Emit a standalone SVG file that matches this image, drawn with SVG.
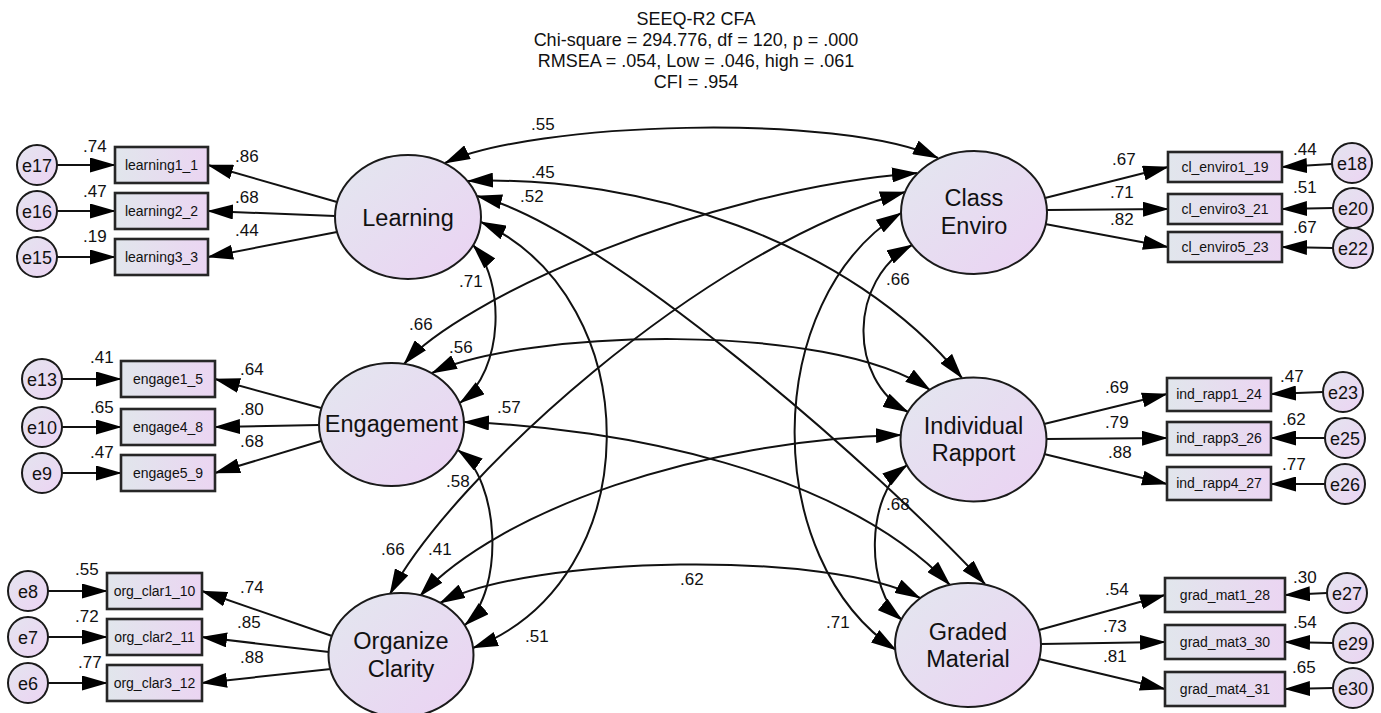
<svg xmlns="http://www.w3.org/2000/svg" width="1381" height="713" viewBox="0 0 1381 713">
<defs>
<linearGradient id="gLat" x1="0" y1="0" x2="1" y2="1">
<stop offset="0" stop-color="#e3e7ef"/><stop offset="1" stop-color="#ebd2f3"/>
</linearGradient>
<linearGradient id="gBox" x1="0" y1="0" x2="1" y2="0">
<stop offset="0" stop-color="#e1e6ec"/><stop offset="1" stop-color="#ebd5f2"/>
</linearGradient>
<linearGradient id="gErr" x1="0" y1="0" x2="1" y2="1">
<stop offset="0" stop-color="#e4e4ef"/><stop offset="1" stop-color="#ecd4f3"/>
</linearGradient>
<marker id="ah" viewBox="0 0 26 15" refX="25" refY="7.5" markerWidth="26" markerHeight="15" markerUnits="userSpaceOnUse" orient="auto-start-reverse">
<path d="M0,0 L26,7.5 L0,15 z" fill="#000"/>
</marker>
<style>
text{font-family:"Liberation Sans",Arial,sans-serif;fill:#111}
.title{font-size:18px;text-anchor:middle}
.lat{fill:url(#gLat);stroke:#1a1a1a;stroke-width:2}
.latt{font-size:23.5px;text-anchor:middle}
.box{fill:url(#gBox);stroke:#262626;stroke-width:2.6}
.boxt{font-size:14px;text-anchor:middle}
.err{fill:url(#gErr);stroke:#1a1a1a;stroke-width:2}
.errt{font-size:18px;text-anchor:middle}
.num{font-size:17px}
.c{fill:none;stroke:#111;stroke-width:2;marker-end:url(#ah)}
.cv{fill:none;stroke:#111;stroke-width:2;marker-start:url(#ah);marker-end:url(#ah)}
</style>
</defs>
<rect width="1381" height="713" fill="#fff"/>

<g id="title">
<text class="title" x="696" y="25">SEEQ-R2 CFA</text>
<text class="title" x="696" y="46">Chi-square = 294.776, df = 120, p = .000</text>
<text class="title" x="696" y="67">RMSEA = .054, Low = .046, high = .061</text>
<text class="title" x="696" y="88">CFI = .954</text>
</g>

<g id="connectors">
<!-- error to indicator -->
<path class="c" d="M57,165 L115,165"/>
<path class="c" d="M57,211 L115,211"/>
<path class="c" d="M57,257 L115,257"/>
<path class="c" d="M62,379 L121,379"/>
<path class="c" d="M62,427 L121,427"/>
<path class="c" d="M62,473 L121,473"/>
<path class="c" d="M48,591 L107,591"/>
<path class="c" d="M48,637 L107,637"/>
<path class="c" d="M48,683 L107,683"/>
<path class="c" d="M1332,164 L1282,167"/>
<path class="c" d="M1333,208 L1282,209"/>
<path class="c" d="M1333,248 L1282,247"/>
<path class="c" d="M1323,392 L1271,394"/>
<path class="c" d="M1325,438 L1271,438"/>
<path class="c" d="M1325,484 L1271,484"/>
<path class="c" d="M1327,593 L1285,595"/>
<path class="c" d="M1333,643 L1285,642"/>
<path class="c" d="M1333,688 L1285,689"/>
<!-- loadings -->
<path class="c" d="M337,202 L208,165"/>
<path class="c" d="M335,216 L208,211"/>
<path class="c" d="M337,232 L208,257"/>
<path class="c" d="M321,408 L215,379"/>
<path class="c" d="M319,425 L215,427"/>
<path class="c" d="M321,441 L215,473"/>
<path class="c" d="M332,636 L202,591"/>
<path class="c" d="M329,652 L202,637"/>
<path class="c" d="M331,669 L202,683"/>
<path class="c" d="M1045,198 L1168,167"/>
<path class="c" d="M1047,210 L1168,209"/>
<path class="c" d="M1045,224 L1168,247"/>
<path class="c" d="M1044,424 L1167,394"/>
<path class="c" d="M1046,439 L1167,438"/>
<path class="c" d="M1044,454 L1167,484"/>
<path class="c" d="M1039,630 L1165,595"/>
<path class="c" d="M1041,644 L1165,642"/>
<path class="c" d="M1039,659 L1165,689"/>
<!-- covariances -->
<path class="cv" d="M445,163 C530,122 840,112 938,158"/>
<path class="cv" d="M468,181 C640,175 850,240 962,378"/>
<path class="cv" d="M477,196 C600,225 880,470 985,584"/>
<path class="cv" d="M473,245 C505,280 505,370 460,403"/>
<path class="cv" d="M481,222 C650,300 650,580 473,648"/>
<path class="cv" d="M404,364 C460,300 700,190 917,173"/>
<path class="cv" d="M432,373 C520,330 830,320 930,390"/>
<path class="cv" d="M464,422 C620,428 840,470 950,585"/>
<path class="cv" d="M458,450 C500,480 505,590 465,625"/>
<path class="cv" d="M390,594 C450,480 700,250 905,192"/>
<path class="cv" d="M420,596 C500,510 700,440 901,435"/>
<path class="cv" d="M440,603 C530,555 830,550 920,598"/>
<path class="cv" d="M912,245 C848,280 848,380 908,412"/>
<path class="cv" d="M901,213 C760,300 760,560 896,650"/>
<path class="cv" d="M907,465 C865,495 865,590 902,620"/>
</g>

<g id="labels">
<text class="num" x="83" y="152">.74</text>
<text class="num" x="83" y="197">.47</text>
<text class="num" x="83" y="242">.19</text>
<text class="num" x="235" y="162">.86</text>
<text class="num" x="235" y="203">.68</text>
<text class="num" x="235" y="236">.44</text>
<text class="num" x="90" y="363">.41</text>
<text class="num" x="90" y="413">.65</text>
<text class="num" x="90" y="458">.47</text>
<text class="num" x="240" y="375">.64</text>
<text class="num" x="240" y="415">.80</text>
<text class="num" x="240" y="447">.68</text>
<text class="num" x="75" y="575">.55</text>
<text class="num" x="75" y="622">.72</text>
<text class="num" x="78" y="668">.77</text>
<text class="num" x="240" y="593">.74</text>
<text class="num" x="237" y="628">.85</text>
<text class="num" x="240" y="663">.88</text>
<text class="num" x="1112" y="165">.67</text>
<text class="num" x="1110" y="198">.71</text>
<text class="num" x="1110" y="225">.82</text>
<text class="num" x="1293" y="155">.44</text>
<text class="num" x="1293" y="193">.51</text>
<text class="num" x="1293" y="233">.67</text>
<text class="num" x="1105" y="393">.69</text>
<text class="num" x="1105" y="428">.79</text>
<text class="num" x="1108" y="458">.88</text>
<text class="num" x="1280" y="382">.47</text>
<text class="num" x="1282" y="425">.62</text>
<text class="num" x="1282" y="470">.77</text>
<text class="num" x="1105" y="595">.54</text>
<text class="num" x="1103" y="632">.73</text>
<text class="num" x="1103" y="662">.81</text>
<text class="num" x="1293" y="583">.30</text>
<text class="num" x="1293" y="628">.54</text>
<text class="num" x="1292" y="673">.65</text>
<text class="num" x="531" y="130">.55</text>
<text class="num" x="531" y="178">.45</text>
<text class="num" x="520" y="202">.52</text>
<text class="num" x="459" y="287">.71</text>
<text class="num" x="409" y="330">.66</text>
<text class="num" x="449" y="353">.56</text>
<text class="num" x="497" y="413">.57</text>
<text class="num" x="446" y="487">.58</text>
<text class="num" x="381" y="555">.66</text>
<text class="num" x="428" y="555">.41</text>
<text class="num" x="680" y="585">.62</text>
<text class="num" x="525" y="642">.51</text>
<text class="num" x="886" y="285">.66</text>
<text class="num" x="886" y="510">.68</text>
<text class="num" x="826" y="628">.71</text>
</g>

<g id="Learning"><ellipse class="lat" cx="408" cy="217" rx="73" ry="62"/><text class="latt" x="408" y="226">Learning</text></g>
<g id="Engagement"><ellipse class="lat" cx="391.5" cy="424.5" rx="72.5" ry="61.5"/><text class="latt" x="391.5" y="432">Engagement</text></g>
<g id="OrganizeClarity"><ellipse class="lat" cx="401" cy="655" rx="72.5" ry="62"/><text class="latt" x="401" y="649">Organize</text><text class="latt" x="401" y="677">Clarity</text></g>
<g id="ClassEnviro"><ellipse class="lat" cx="974" cy="212.5" rx="73" ry="61.5"/><text class="latt" x="974" y="206">Class</text><text class="latt" x="974" y="234">Enviro</text></g>
<g id="IndividualRapport"><ellipse class="lat" cx="973.5" cy="439.5" rx="73" ry="62"/><text class="latt" x="973.5" y="434">Individual</text><text class="latt" x="973.5" y="461">Rapport</text></g>
<g id="GradedMaterial"><ellipse class="lat" cx="968" cy="645" rx="73" ry="62"/><text class="latt" x="968" y="640">Graded</text><text class="latt" x="968" y="667">Material</text></g>

<g id="learning1_1"><rect class="box" x="115" y="147" width="93" height="36"/><text class="boxt" x="161.5" y="170">learning1_1</text></g>
<g id="learning2_2"><rect class="box" x="115" y="193" width="93" height="36"/><text class="boxt" x="161.5" y="216">learning2_2</text></g>
<g id="learning3_3"><rect class="box" x="115" y="239" width="93" height="36"/><text class="boxt" x="161.5" y="262">learning3_3</text></g>
<g id="engage1_5"><rect class="box" x="121" y="361" width="94" height="36"/><text class="boxt" x="168" y="384">engage1_5</text></g>
<g id="engage4_8"><rect class="box" x="121" y="409" width="94" height="36"/><text class="boxt" x="168" y="432">engage4_8</text></g>
<g id="engage5_9"><rect class="box" x="121" y="455" width="94" height="36"/><text class="boxt" x="168" y="478">engage5_9</text></g>
<g id="org_clar1_10"><rect class="box" x="107" y="573" width="95" height="36"/><text class="boxt" x="154.5" y="596">org_clar1_10</text></g>
<g id="org_clar2_11"><rect class="box" x="107" y="619" width="95" height="36"/><text class="boxt" x="154.5" y="642">org_clar2_11</text></g>
<g id="org_clar3_12"><rect class="box" x="107" y="665" width="95" height="36"/><text class="boxt" x="154.5" y="688">org_clar3_12</text></g>
<g id="cl_enviro1_19"><rect class="box" x="1168" y="152" width="114" height="30"/><text class="boxt" x="1225" y="172">cl_enviro1_19</text></g>
<g id="cl_enviro3_21"><rect class="box" x="1168" y="194" width="114" height="30"/><text class="boxt" x="1225" y="214">cl_enviro3_21</text></g>
<g id="cl_enviro5_23"><rect class="box" x="1168" y="232" width="114" height="30"/><text class="boxt" x="1225" y="252">cl_enviro5_23</text></g>
<g id="ind_rapp1_24"><rect class="box" x="1167" y="378" width="104" height="33"/><text class="boxt" x="1219" y="399">ind_rapp1_24</text></g>
<g id="ind_rapp3_26"><rect class="box" x="1167" y="422" width="104" height="33"/><text class="boxt" x="1219" y="443">ind_rapp3_26</text></g>
<g id="ind_rapp4_27"><rect class="box" x="1167" y="467" width="104" height="33"/><text class="boxt" x="1219" y="488">ind_rapp4_27</text></g>
<g id="grad_mat1_28"><rect class="box" x="1165" y="578" width="120" height="34"/><text class="boxt" x="1225" y="600">grad_mat1_28</text></g>
<g id="grad_mat3_30"><rect class="box" x="1165" y="625" width="120" height="34"/><text class="boxt" x="1225" y="647">grad_mat3_30</text></g>
<g id="grad_mat4_31"><rect class="box" x="1165" y="672" width="120" height="34"/><text class="boxt" x="1225" y="694">grad_mat4_31</text></g>

<g id="e17"><circle class="err" cx="37" cy="165" r="20"/><text class="errt" x="37" y="171.5">e17</text></g>
<g id="e16"><circle class="err" cx="37" cy="211" r="20"/><text class="errt" x="37" y="217.5">e16</text></g>
<g id="e15"><circle class="err" cx="37" cy="257" r="20"/><text class="errt" x="37" y="263.5">e15</text></g>
<g id="e13"><circle class="err" cx="42" cy="379" r="20"/><text class="errt" x="42" y="385.5">e13</text></g>
<g id="e10"><circle class="err" cx="42" cy="427" r="20"/><text class="errt" x="42" y="433.5">e10</text></g>
<g id="e9"><circle class="err" cx="42" cy="473" r="20"/><text class="errt" x="42" y="479.5">e9</text></g>
<g id="e8"><circle class="err" cx="28" cy="591" r="20"/><text class="errt" x="28" y="597.5">e8</text></g>
<g id="e7"><circle class="err" cx="28" cy="637" r="20"/><text class="errt" x="28" y="643.5">e7</text></g>
<g id="e6"><circle class="err" cx="28" cy="683" r="20"/><text class="errt" x="28" y="689.5">e6</text></g>
<g id="e18"><circle class="err" cx="1352" cy="163" r="20"/><text class="errt" x="1352" y="169.5">e18</text></g>
<g id="e20"><circle class="err" cx="1353" cy="208" r="20"/><text class="errt" x="1353" y="214.5">e20</text></g>
<g id="e22"><circle class="err" cx="1353" cy="248" r="20"/><text class="errt" x="1353" y="254.5">e22</text></g>
<g id="e23"><circle class="err" cx="1343" cy="392" r="20"/><text class="errt" x="1343" y="398.5">e23</text></g>
<g id="e25"><circle class="err" cx="1345" cy="438" r="20"/><text class="errt" x="1345" y="444.5">e25</text></g>
<g id="e26"><circle class="err" cx="1345" cy="484" r="20"/><text class="errt" x="1345" y="490.5">e26</text></g>
<g id="e27"><circle class="err" cx="1347" cy="593" r="20"/><text class="errt" x="1347" y="599.5">e27</text></g>
<g id="e29"><circle class="err" cx="1353" cy="643" r="20"/><text class="errt" x="1353" y="649.5">e29</text></g>
<g id="e30"><circle class="err" cx="1353" cy="688" r="20"/><text class="errt" x="1353" y="694.5">e30</text></g>
</svg>
